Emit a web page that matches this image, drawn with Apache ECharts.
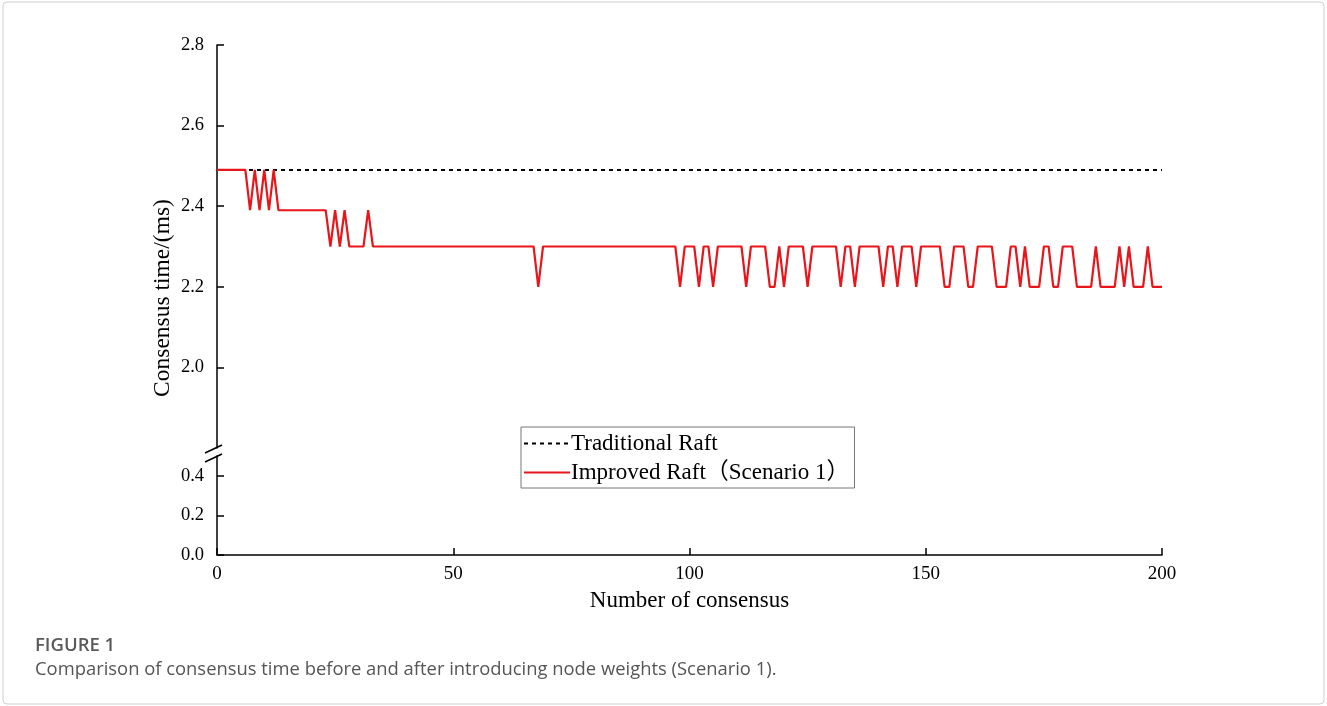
<!DOCTYPE html>
<html>
<head>
<meta charset="utf-8">
<script src="https://cdn.jsdelivr.net/npm/echarts@6/dist/echarts.min.js"></script>
<style>
html, body { margin: 0; padding: 0; background: #fff; }
#chart { width: 1327px; height: 706px; }
</style>
</head>
<body>
<div id="chart"></div>
<script>
// consensus round 0..200
var traditionalTime = [];
for (var t = 0; t <= 200; t++) traditionalTime.push(2.49);

var improvedTime = [
    2.49,2.49,2.49,2.49,2.49,2.49,2.49,2.39,2.49,2.39,
    2.49,2.39,2.49,2.39,2.39,2.39,2.39,2.39,2.39,2.39,
    2.39,2.39,2.39,2.39,2.30,2.39,2.30,2.39,2.30,2.30,
    2.30,2.30,2.39,2.30,2.30,2.30,2.30,2.30,2.30,2.30,
    2.30,2.30,2.30,2.30,2.30,2.30,2.30,2.30,2.30,2.30,
    2.30,2.30,2.30,2.30,2.30,2.30,2.30,2.30,2.30,2.30,
    2.30,2.30,2.30,2.30,2.30,2.30,2.30,2.30,2.20,2.30,
    2.30,2.30,2.30,2.30,2.30,2.30,2.30,2.30,2.30,2.30,
    2.30,2.30,2.30,2.30,2.30,2.30,2.30,2.30,2.30,2.30,
    2.30,2.30,2.30,2.30,2.30,2.30,2.30,2.30,2.20,2.30,
    2.30,2.30,2.20,2.30,2.30,2.20,2.30,2.30,2.30,2.30,
    2.30,2.30,2.20,2.30,2.30,2.30,2.30,2.20,2.20,2.30,
    2.20,2.30,2.30,2.30,2.30,2.20,2.30,2.30,2.30,2.30,
    2.30,2.30,2.20,2.30,2.30,2.20,2.30,2.30,2.30,2.30,
    2.30,2.20,2.30,2.30,2.20,2.30,2.30,2.30,2.20,2.30,
    2.30,2.30,2.30,2.30,2.20,2.20,2.30,2.30,2.30,2.20,
    2.20,2.30,2.30,2.30,2.30,2.20,2.20,2.20,2.30,2.30,
    2.20,2.30,2.20,2.20,2.20,2.30,2.30,2.20,2.20,2.30,
    2.30,2.30,2.20,2.20,2.20,2.20,2.30,2.20,2.20,2.20,
    2.20,2.30,2.20,2.30,2.20,2.20,2.20,2.30,2.20,2.20,
    2.20
];

var xTicks = [0, 50, 100, 150, 200];
var upperTicks = [2.0, 2.2, 2.4, 2.6, 2.8];
var lowerTicks = [0.0, 0.2, 0.4];

var serif = "'Liberation Serif', 'Noto Sans CJK SC', serif";

function toPairs(arr) {
    return arr.map(function (v, i) { return [i, v]; });
}

var chart = echarts.init(document.getElementById('chart'));
var option = {
    backgroundColor: '#fff',
    animation: false,
    grid: [
        { left: 217, top: 45, width: 945, height: 403 },
        { left: 217, top: 456, width: 945, height: 99 }
    ],
    xAxis: [
        { gridIndex: 0, type: 'value', min: 0, max: 200, show: false },
        {
            gridIndex: 1, type: 'value', min: 0, max: 200, interval: 50,
            name: 'Number of consensus', nameLocation: 'middle', nameGap: 34,
            nameTextStyle: { fontFamily: serif, fontSize: 23, color: '#000' },
            axisLine: { lineStyle: { color: '#000', width: 1.5 } },
            axisTick: { inside: true, length: 7, customValues: xTicks, lineStyle: { color: '#000', width: 1.5 } },
            axisLabel: { margin: 10, fontFamily: serif, fontSize: 19, color: '#000', customValues: xTicks },
            splitLine: { show: false }
        }
    ],
    yAxis: [
        {
            gridIndex: 0, type: 'value', min: 1.8, max: 2.8,
            axisLine: { show: true, lineStyle: { color: '#000', width: 1.5 } },
            axisTick: { inside: true, length: 7, customValues: upperTicks, lineStyle: { color: '#000', width: 1.5 } },
            axisLabel: {
                margin: 13, fontFamily: serif, fontSize: 18.5, color: '#000',
                customValues: upperTicks,
                formatter: function (v) { return v.toFixed(1); }
            },
            splitLine: { show: false }
        },
        {
            gridIndex: 1, type: 'value', min: 0, max: 0.5,
            axisLine: { show: true, lineStyle: { color: '#000', width: 1.5 } },
            axisTick: { inside: true, length: 7, customValues: lowerTicks, lineStyle: { color: '#000', width: 1.5 } },
            axisLabel: {
                margin: 13, fontFamily: serif, fontSize: 18.5, color: '#000',
                customValues: lowerTicks,
                formatter: function (v) { return v.toFixed(1); }
            },
            splitLine: { show: false }
        }
    ],
    legend: {
        left: 521, top: 427,
        orient: 'vertical',
        itemWidth: 46, itemHeight: 14, itemGap: 6,
        padding: [5, 5, 4, 2],
        borderColor: '#777', borderWidth: 1,
        itemStyle: { opacity: 0 },
        textStyle: { fontFamily: serif, fontSize: 23, color: '#000', padding: [0, 0, 0, -4] },
        data: ['Traditional Raft', 'Improved Raft（Scenario 1）']
    },
    series: [
        {
            name: 'Traditional Raft', type: 'line',
            xAxisIndex: 0, yAxisIndex: 0,
            symbol: 'none',
            data: toPairs(traditionalTime),
            lineStyle: { color: '#000', width: 2, type: [4, 4] },
            itemStyle: { color: '#000' },
            z: 2
        },
        {
            name: 'Improved Raft（Scenario 1）', type: 'line',
            xAxisIndex: 0, yAxisIndex: 0,
            symbol: 'none',
            data: toPairs(improvedTime),
            lineStyle: { color: '#e8151b', width: 2.2 },
            itemStyle: { color: '#e8151b' },
            z: 3
        }
    ],
    graphic: [
        {
            type: 'rect', silent: true,
            shape: { x: 3, y: 2, width: 1321, height: 702, r: 4 },
            style: { fill: 'none', stroke: '#cfcfcf', lineWidth: 1 }
        },
        {
            type: 'line', silent: true,
            shape: { x1: 205, y1: 453, x2: 222, y2: 445 },
            style: { stroke: '#000', lineWidth: 1.5 }
        },
        {
            type: 'line', silent: true,
            shape: { x1: 205, y1: 462, x2: 222, y2: 454 },
            style: { stroke: '#000', lineWidth: 1.5 }
        },
        {
            type: 'text', silent: true,
            x: 163, y: 298, rotation: Math.PI / 2,
            style: {
                text: 'Consensus time/(ms)', fontFamily: serif, fontSize: 23.5,
                fill: '#000', align: 'center', verticalAlign: 'middle'
            }
        },
        {
            type: 'text', silent: true,
            x: 35, y: 646,
            style: {
                text: 'FIGURE 1', fontFamily: "'Open Sans', sans-serif", fontSize: 18.5,
                fontWeight: 600, fill: '#5a5a5a', verticalAlign: 'middle'
            }
        },
        {
            type: 'text', silent: true,
            x: 35, y: 670,
            style: {
                text: 'Comparison of consensus time before and after introducing node weights (Scenario 1).',
                fontFamily: "'Open Sans', sans-serif", fontSize: 18.4, fill: '#555', verticalAlign: 'middle'
            }
        }
    ]
};
chart.setOption(option);
</script>
</body>
</html>
